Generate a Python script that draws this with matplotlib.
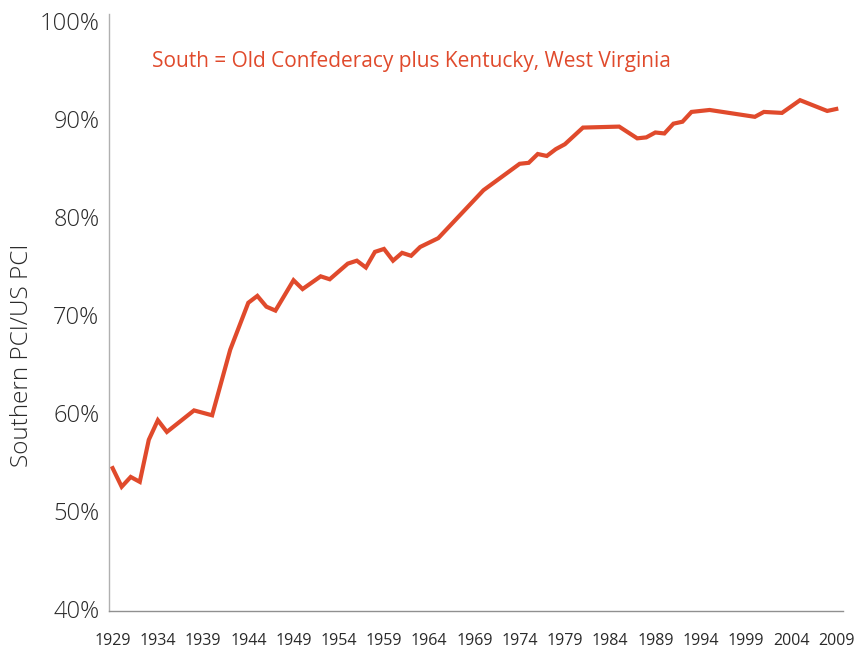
import matplotlib
matplotlib.use("Agg")
import matplotlib.pyplot as plt
from matplotlib.transforms import ScaledTranslation

years = [1929, 1930, 1931, 1932, 1933, 1934, 1935, 1938, 1940, 1942, 1944, 1945,
         1946, 1947, 1949, 1950, 1952, 1953, 1955, 1956, 1957, 1958, 1959, 1960,
         1961, 1962, 1963, 1965, 1970, 1974, 1975, 1976, 1977, 1978, 1979, 1981,
         1985, 1987, 1988, 1989, 1990, 1991, 1992, 1993, 1995, 2000, 2001, 2003,
         2005, 2008, 2009]
ratio_pct = [54.6, 52.7, 53.7, 53.2, 57.5, 59.5, 58.3, 60.5, 60.0, 66.7, 71.5, 72.2,
             71.1, 70.7, 73.8, 72.9, 74.2, 73.9, 75.5, 75.8, 75.1, 76.7, 77.0, 75.8,
             76.6, 76.3, 77.2, 78.1, 83.0, 85.7, 85.8, 86.7, 86.5, 87.2, 87.7, 89.4,
             89.5, 88.3, 88.4, 88.9, 88.8, 89.8, 90.0, 91.0, 91.2, 90.5, 91.0, 90.9,
             92.2, 91.1, 91.3]
xtick_years = list(range(1929, 2010, 5))
ytick_vals = [40, 50, 60, 70, 80, 90, 100]
note = "South = Old Confederacy plus Kentucky, West Virginia"
ylabel = "Southern PCI/US PCI"

RED = "#E04A2C"
FONT = "Open Sans"

fig = plt.figure(figsize=(8.61, 6.51), dpi=100)
ax = fig.add_axes([0.1266, 0.0614, 0.852, 0.917])
ax.plot(years, ratio_pct, color=RED, lw=3.0, solid_joinstyle="miter")

ax.set_xlim(1928.6, 2009.7)
ax.set_ylim(40, 101.0)
ax.set_xticks(xtick_years)
ax.set_xticklabels([str(y) for y in xtick_years], fontsize=11.5, family=FONT,
                   color="#2a2a2a")
ax.set_yticks(ytick_vals)
ax.set_yticklabels([f"{v}%" for v in ytick_vals], fontsize=17, family=FONT,
                   fontweight="light", color="#2a2a2a")
ax.tick_params(axis="x", length=0, pad=16)
ax.tick_params(axis="y", length=0, pad=7)
shift = ScaledTranslation(0, 2.5 / 100, fig.dpi_scale_trans)
for lab in ax.get_yticklabels():
    lab.set_transform(lab.get_transform() + shift)

for s in ["top", "right"]:
    ax.spines[s].set_visible(False)
ax.spines["left"].set_color("#b0b0b0")
ax.spines["bottom"].set_color("#909090")
ax.spines["left"].set_linewidth(1.0)
ax.spines["bottom"].set_linewidth(1.0)

fig.text(22 / 861, 1 - 355 / 651, ylabel, rotation=90, fontsize=17.5,
         family=FONT, fontweight="light", color="#2a2a2a",
         ha="center", va="center")

ax.text(0.058, 0.92, note, transform=ax.transAxes, fontsize=15,
        family=FONT, color=RED, va="center", ha="left")

fig.savefig("out.png", dpi=100)
